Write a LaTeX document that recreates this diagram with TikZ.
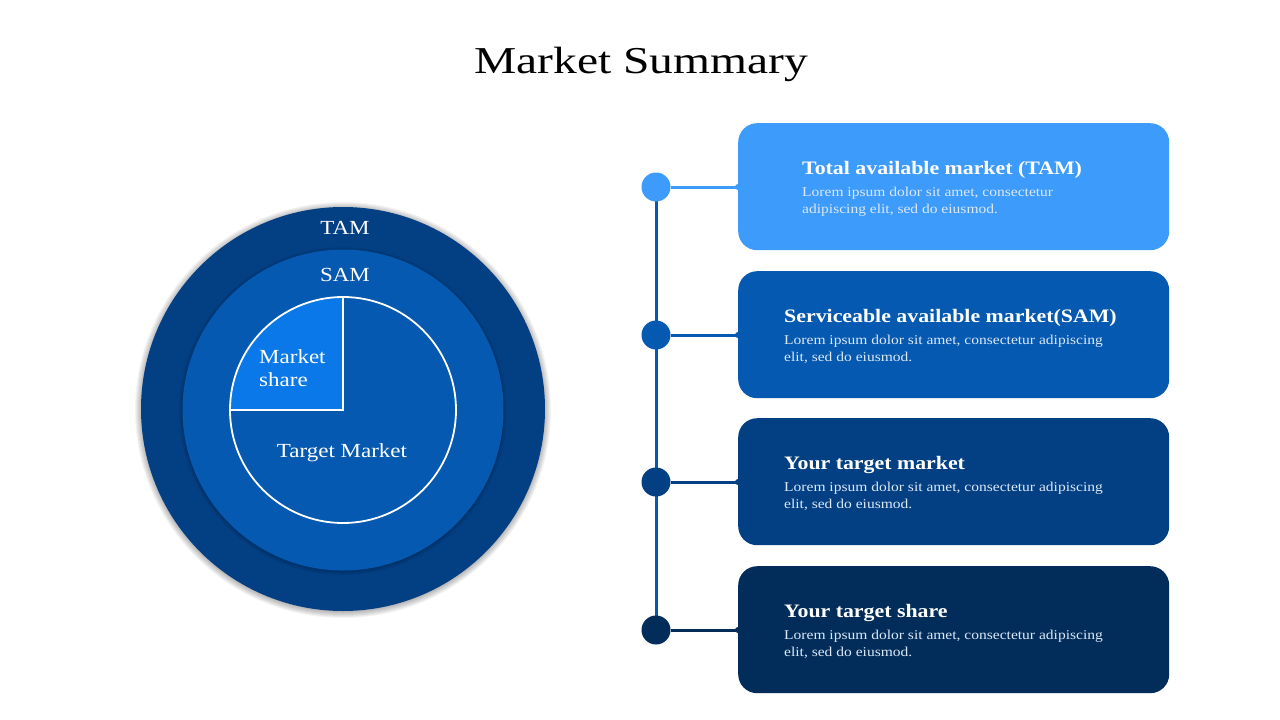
\documentclass[tikz,border=0pt]{standalone}
\usepackage{fontspec}
\setmainfont{Liberation Serif}[FakeStretch=1.15]
\newfontfamily\titlefont{Liberation Serif}[FakeStretch=1.25]
\pgfdeclarelayer{bg}
\pgfsetlayers{bg,main}
\definecolor{tamc}{HTML}{033F83}
\definecolor{samc}{HTML}{0559B0}
\definecolor{sharec}{HTML}{0A78E8}
\definecolor{b1}{HTML}{3D9BFB}
\definecolor{b2}{HTML}{0559B0}
\definecolor{b3}{HTML}{034083}
\definecolor{b4}{HTML}{022D5A}
\definecolor{bodytxt}{HTML}{DCE8F8}
\tikzset{
  infobox/.style={rounded corners=19pt, minimum width=431pt, minimum height=127pt, inner sep=0pt, anchor=north west},
  dotc/.style={circle, minimum size=29pt, inner sep=0pt},
  enddot/.style={circle, minimum size=6pt, inner sep=0pt},
  ttl/.style={anchor=base west, font=\fontsize{19}{22}\selectfont\bfseries, text=white, inner sep=0pt},
  bdy/.style={anchor=base west, font=\fontsize{13.5}{18}\selectfont, text=bodytxt, inner sep=0pt},
  circlbl/.style={text=white, font=\fontsize{20}{24}\selectfont, inner sep=0pt},
  shadowring/.style={fill=black, fill opacity=0.045},
}
\newcommand{\twolines}[2]{\begin{tabular}[t]{@{}l@{}}#1\\[-0.6pt]#2\end{tabular}}
\begin{document}
\begin{tikzpicture}[x=1pt,y=-1pt]
\begin{pgfonlayer}{bg}
\fill[white] (0,0) rectangle (1280,720);
\end{pgfonlayer}
\useasboundingbox (0,0) rectangle (1280,720);
% title
\node[anchor=base, font=\titlefont\fontsize{38}{42}\selectfont, inner sep=0pt] (title) at (641,73) {Market Summary};
% circles
\coordinate (cc) at (343,409);
\foreach \k in {1,...,7}{\fill[shadowring] (343,410) circle[radius=201+\k];}
\node[circle, fill=tamc, minimum size=404pt, inner sep=0pt] (tam) at (cc) {};
\foreach \k in {1,...,4}{\fill[shadowring] (343,411) circle[radius=160+\k];}
\node[circle, fill=samc, minimum size=321pt, inner sep=0pt] (sam) at (343,410) {};
\coordinate (ic) at (343,410);
\fill[samc] (ic) circle[radius=113];
\fill[sharec] (ic) -- (230,410) arc[start angle=180, end angle=270, radius=113] -- cycle;
\draw[white, line width=1.8pt] (230,410) -- (ic) -- (343,297);
\draw[white, line width=1.8pt] (ic) circle[radius=113];
\node[circlbl, anchor=base] (tamlbl) at (345,234) {TAM};
\node[circlbl, anchor=base] (samlbl) at (345,281) {SAM};
\node[circlbl, anchor=base west] (mslbl) at (259,363) {\twolines{Market}{share}};
\node[circlbl, anchor=base] (tmlbl) at (342,457) {Target Market};
% timeline
\node[dotc, fill=b1] (d1) at (656,187) {};
\node[dotc, fill=b2] (d2) at (656,335) {};
\node[dotc, fill=b3] (d3) at (656,482) {};
\node[dotc, fill=b4] (d4) at (656,630) {};
\begin{pgfonlayer}{bg}
\draw[samc, line width=3pt] (d1.center) -- (d4.center);
\end{pgfonlayer}
% boxes
\node[infobox, fill=b1] (box1) at (738,123) {};
\node[infobox, fill=b2] (box2) at (738,271) {};
\node[infobox, fill=b3] (box3) at (738,418) {};
\node[infobox, fill=b4] (box4) at (738,566) {};
\node[enddot, fill=b1] (e1) at (box1.west |- d1) {};
\node[enddot, fill=b2] (e2) at (box2.west |- d2) {};
\node[enddot, fill=b3] (e3) at (box3.west |- d3) {};
\node[enddot, fill=b4] (e4) at (box4.west |- d4) {};
\draw[b1, line width=3pt] (d1) -- (e1.center);
\draw[b2, line width=3pt] (d2) -- (e2.center);
\draw[b3, line width=3pt] (d3) -- (e3.center);
\draw[b4, line width=3pt] (d4) -- (e4.center);
% box texts
\node[ttl] (t1) at (802,174) {Total available market (TAM)};
\node[bdy] (p1) at (802,196) {\twolines{Lorem ipsum dolor sit amet, consectetur}{adipiscing elit, sed do eiusmod.}};
\node[ttl] (t2) at (784,322) {Serviceable available market(SAM)};
\node[bdy] (p2) at (784,344) {\twolines{Lorem ipsum dolor sit amet, consectetur adipiscing}{elit, sed do eiusmod.}};
\node[ttl] (t3) at (784,469) {Your target market};
\node[bdy] (p3) at (784,491) {\twolines{Lorem ipsum dolor sit amet, consectetur adipiscing}{elit, sed do eiusmod.}};
\node[ttl] (t4) at (784,617) {Your target share};
\node[bdy] (p4) at (784,639) {\twolines{Lorem ipsum dolor sit amet, consectetur adipiscing}{elit, sed do eiusmod.}};
\end{tikzpicture}
\end{document}
